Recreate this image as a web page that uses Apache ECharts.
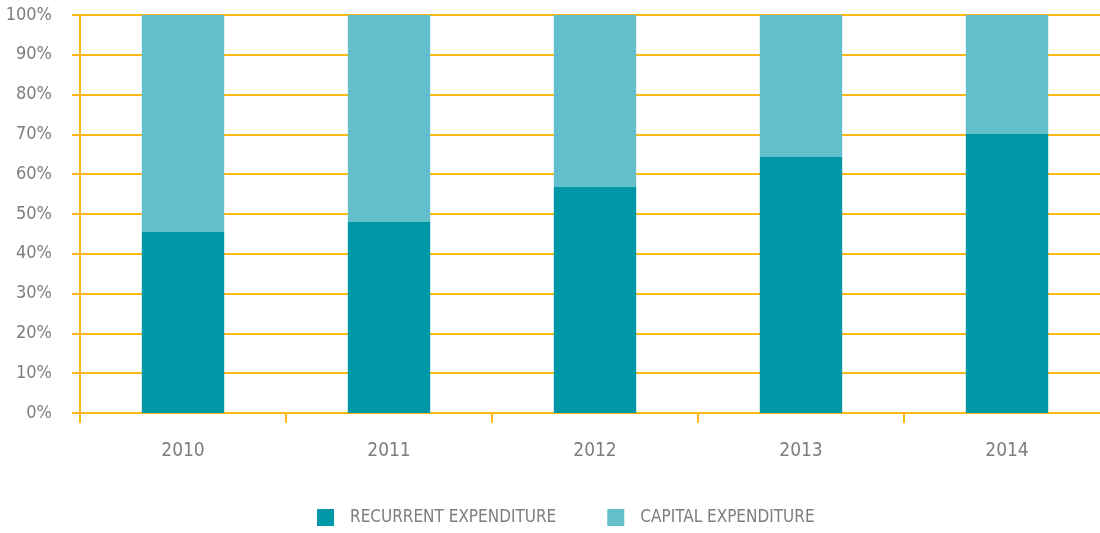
<!DOCTYPE html>
<html><head><meta charset="utf-8">
<script src="https://cdn.jsdelivr.net/npm/echarts@6/dist/echarts.min.js"></script>
<style>html,body{margin:0;padding:0;background:#fff}#c{width:1100px;height:533px}</style>
</head><body><div id="c"></div>
<script>
const categories = ['2010','2011','2012','2013','2014'];
const recurrent = [45.5, 48.0, 56.8, 64.3, 70.1];
const capital = [54.5, 52.0, 43.2, 35.7, 29.9];
const yTicks = [0,10,20,30,40,50,60,70,80,90,100];

const FONT = '"DejaVu Sans Condensed", "Liberation Sans Narrow", sans-serif';
const GOLD = '#FDB913';
const TXT = '#7d7d7d';
const chart = echarts.init(document.getElementById('c'));
chart.setOption({
  animation: false,
  grid: {left: 80, right: -10, top: 15, bottom: 120, containLabel: false, outerBoundsMode: 'none'},
  legend: {
    top: 509, left: 317, padding: 0, itemWidth: 17, itemHeight: 17, itemGap: 51,
    icon: 'rect',
    textStyle: {fontFamily: FONT, fontSize: 17, color: TXT, padding: [0,0,0,11]},
    data: ['RECURRENT EXPENDITURE', 'CAPITAL EXPENDITURE']
  },
  xAxis: {
    type: 'category', data: categories,
    axisLine: {lineStyle: {color: GOLD, width: 2}},
    axisTick: {show: true, alignWithLabel: false, length: 10, lineStyle: {color: GOLD, width: 2}},
    axisLabel: {fontFamily: FONT, fontSize: 19, color: TXT, margin: 29}
  },
  yAxis: {
    type: 'value', min: 0, max: 100, interval: 10,
    axisLine: {show: true, lineStyle: {color: GOLD, width: 2}},
    axisTick: {show: true, length: 8, lineStyle: {color: GOLD, width: 2}},
    splitLine: {lineStyle: {color: GOLD, width: 2}},
    axisLabel: {fontFamily: FONT, fontSize: 18, color: TXT, margin: 28,
      formatter: v => yTicks.includes(v) ? v + '%' : ''}
  },
  series: [
    {name: 'RECURRENT EXPENDITURE', type: 'bar', stack: 'a', data: recurrent,
     barWidth: '40%', itemStyle: {color: '#0097A7'}},
    {name: 'CAPITAL EXPENDITURE', type: 'bar', stack: 'a', data: capital,
     barWidth: '40%', itemStyle: {color: '#63BFCC'}}
  ]
});
</script></body></html>
